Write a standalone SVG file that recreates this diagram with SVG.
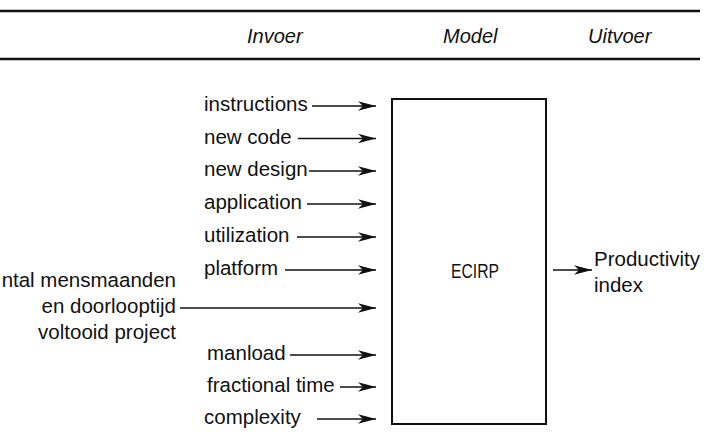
<svg xmlns="http://www.w3.org/2000/svg" width="708" height="433" viewBox="0 0 708 433">
  <style>
    .lbl { font-family: "Liberation Sans", Arial, Helvetica, sans-serif; font-size: 20.5px; fill: #111; }
    .hdr { font-family: "Liberation Sans", Arial, Helvetica, sans-serif; font-size: 20px; font-style: italic; fill: #111; }
    .rule { stroke: #111; stroke-width: 2.4; }
    .conn { stroke: #111; stroke-width: 1.6; fill: none; marker-end: url(#head); }
    .box { fill: #fff; stroke: #111; stroke-width: 2; }
  </style>
  <defs>
    <!-- barbed, filled arrowhead shared by all connectors -->
    <marker id="head" markerUnits="userSpaceOnUse" markerWidth="20" markerHeight="12" refX="18" refY="5.5" orient="auto">
      <path d="M18,5.5 L0,0.8 L5,5.5 L0,10.2 Z" fill="#111"/>
    </marker>
  </defs>

  <!-- table header -->
  <g id="header">
    <line class="rule" x1="0" y1="11" x2="700" y2="11"/>
    <line class="rule" x1="0" y1="59" x2="700" y2="59"/>
    <text class="hdr" x="247" y="43">Invoer</text>
    <text class="hdr" x="443" y="43">Model</text>
    <text class="hdr" x="588" y="43">Uitvoer</text>
  </g>

  <!-- model block -->
  <g id="ecirp">
    <rect class="box" x="392" y="99" width="154" height="325"/>
    <text class="lbl" x="475" y="278" text-anchor="middle" font-size="18.5" textLength="48" lengthAdjust="spacingAndGlyphs">ECIRP</text>
  </g>

  <!-- input labels -->
  <g id="in-instructions"><text class="lbl" x="204" y="111">instructions</text></g>
  <g id="in-newcode"><text class="lbl" x="204" y="143.5">new code</text></g>
  <g id="in-newdesign"><text class="lbl" x="204" y="176">new design</text></g>
  <g id="in-application"><text class="lbl" x="204" y="209">application</text></g>
  <g id="in-utilization"><text class="lbl" x="204" y="242">utilization</text></g>
  <g id="in-platform"><text class="lbl" x="204" y="275">platform</text></g>
  <g id="in-history">
    <text class="lbl" x="176" y="287" text-anchor="end">ntal mensmaanden</text>
    <text class="lbl" x="176" y="313" text-anchor="end">en doorlooptijd</text>
    <text class="lbl" x="176" y="339" text-anchor="end">voltooid project</text>
  </g>
  <g id="in-manload"><text class="lbl" x="207" y="360">manload</text></g>
  <g id="in-fractional"><text class="lbl" x="207" y="392">fractional time</text></g>
  <g id="in-complexity"><text class="lbl" x="204" y="424">complexity</text></g>

  <!-- output label -->
  <g id="out-productivity">
    <text class="lbl" x="594" y="266">Productivity</text>
    <text class="lbl" x="594" y="292">index</text>
  </g>

  <!-- connectors -->
  <g id="connectors">
    <line class="conn" x1="312" y1="106" x2="376" y2="106"/>
    <line class="conn" x1="298" y1="138.5" x2="376" y2="138.5"/>
    <line class="conn" x1="309" y1="171" x2="376" y2="171"/>
    <line class="conn" x1="307" y1="204" x2="376" y2="204"/>
    <line class="conn" x1="297" y1="237" x2="376" y2="237"/>
    <line class="conn" x1="285" y1="270" x2="376" y2="270"/>
    <line class="conn" x1="180" y1="308" x2="376" y2="308"/>
    <line class="conn" x1="290" y1="355" x2="376" y2="355"/>
    <line class="conn" x1="340" y1="387" x2="376" y2="387"/>
    <line class="conn" x1="317" y1="419" x2="376" y2="419"/>
    <line class="conn" x1="553" y1="270" x2="592" y2="270"/>
  </g>
</svg>
